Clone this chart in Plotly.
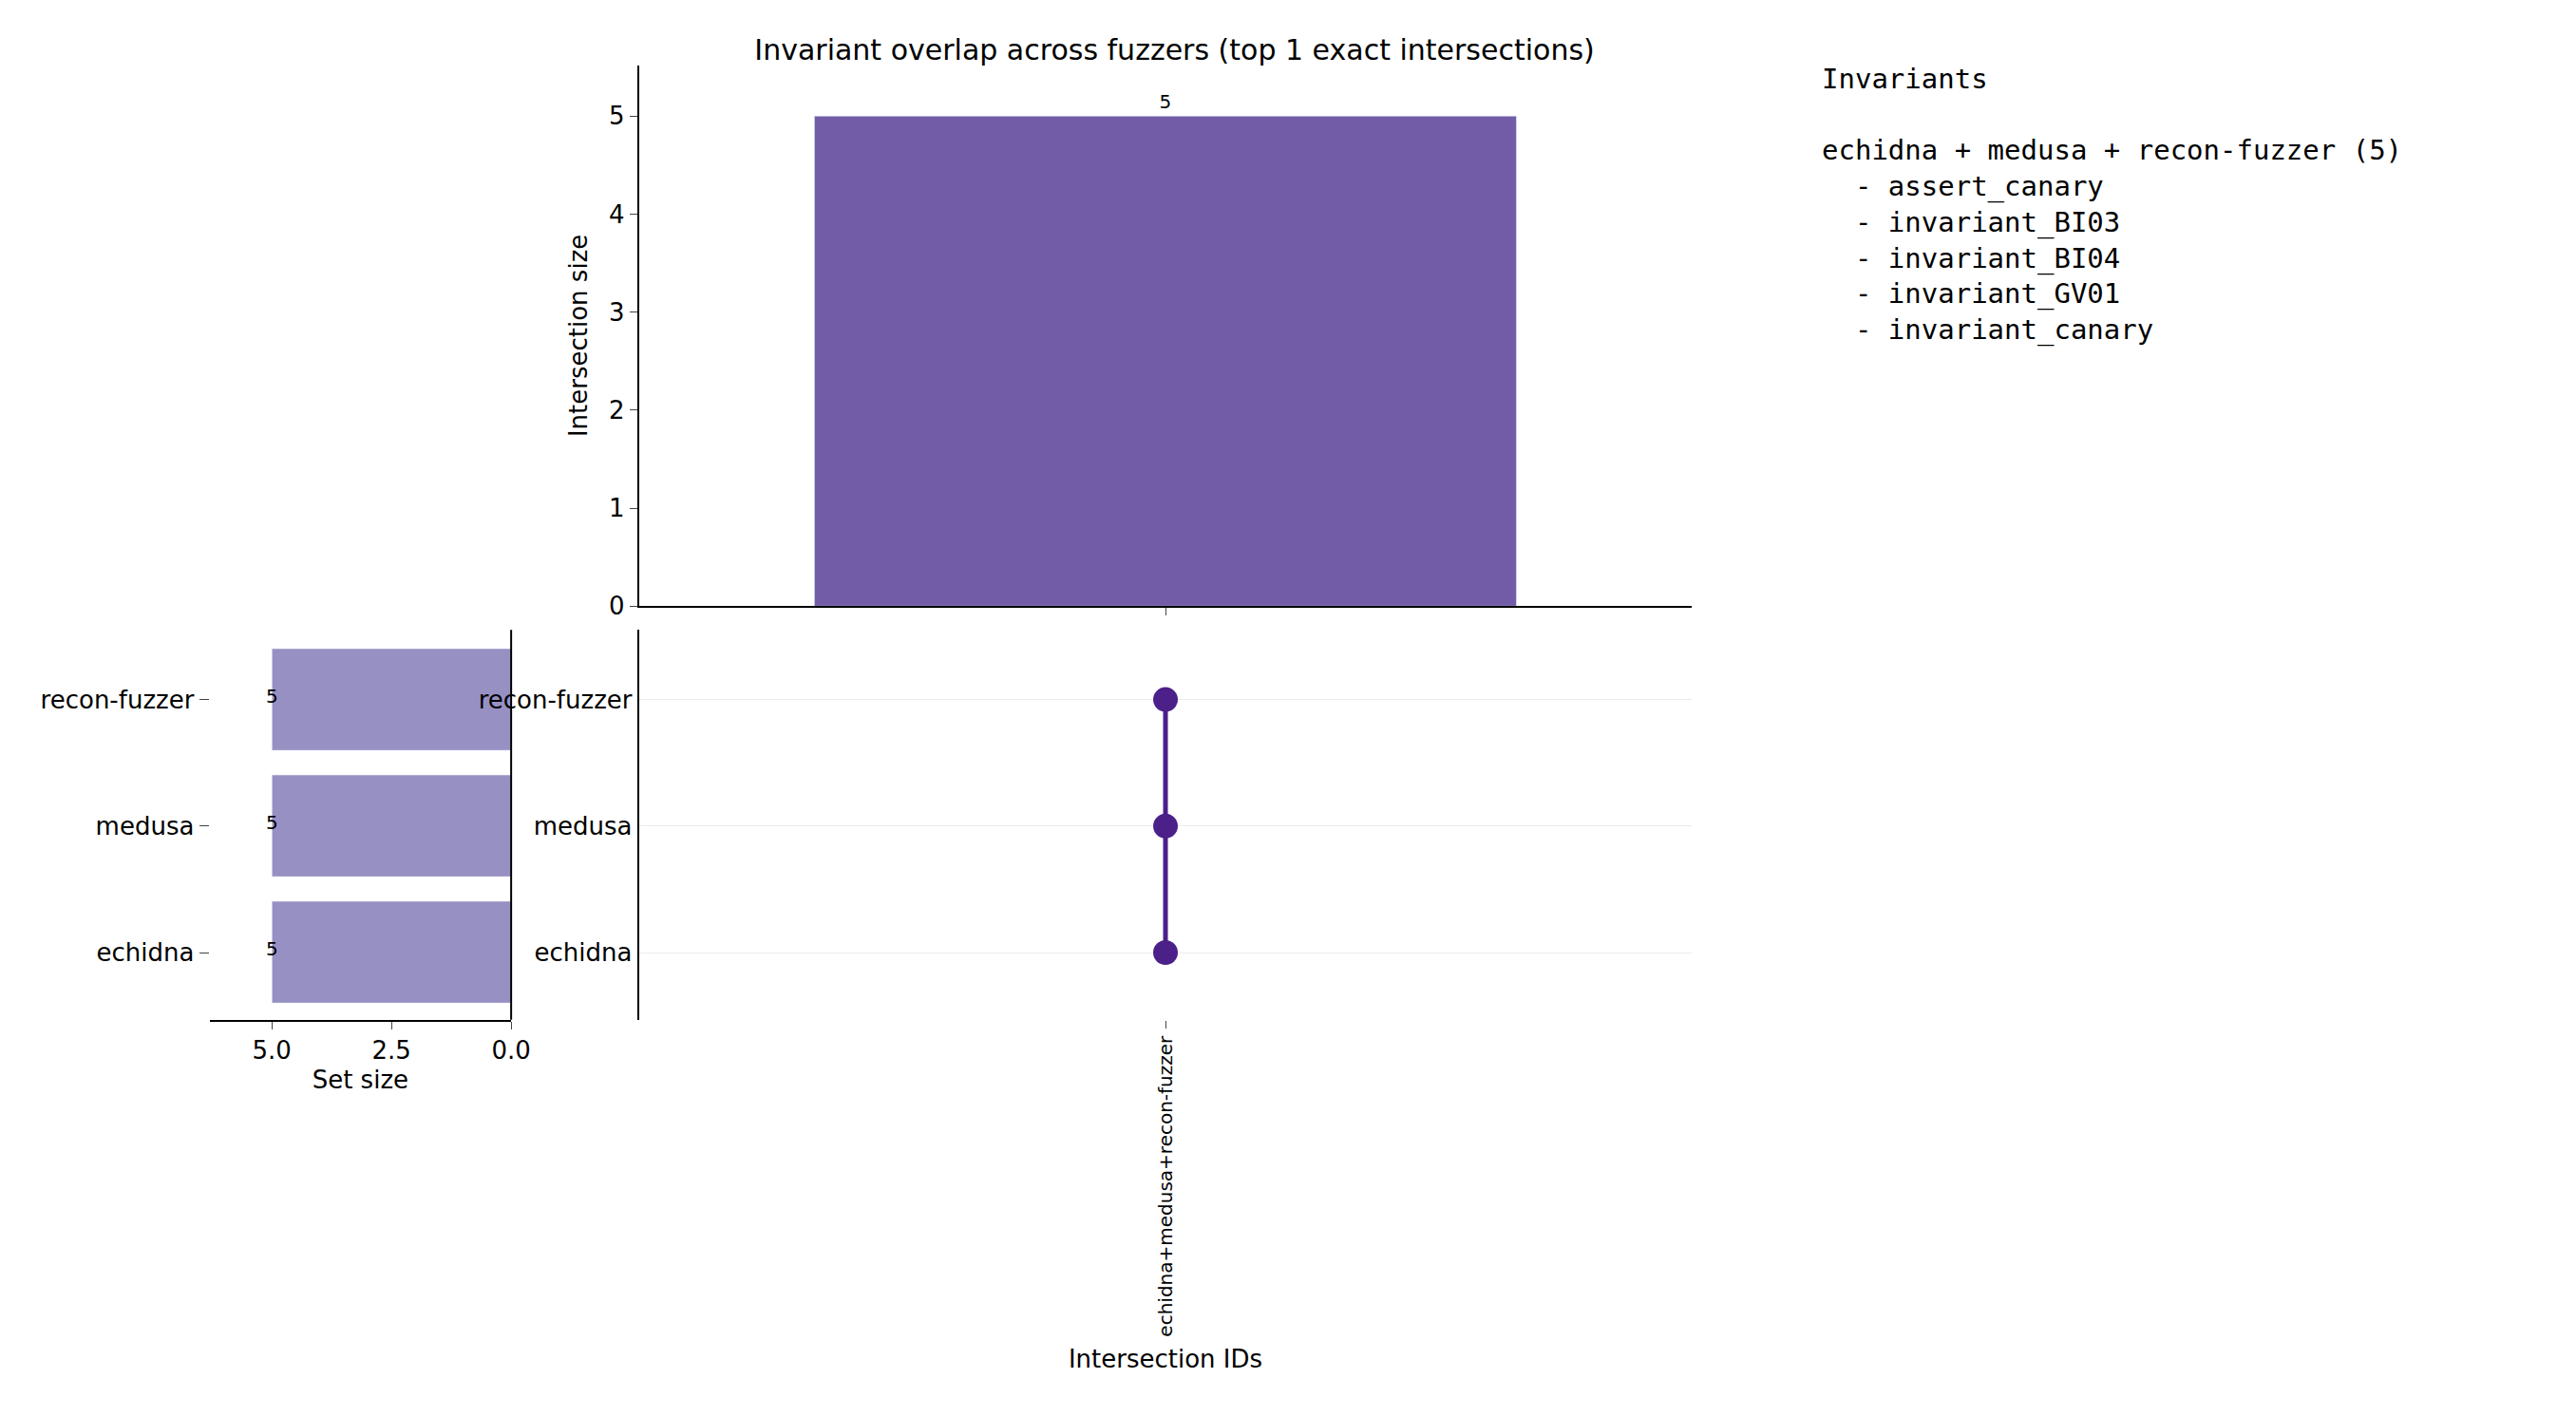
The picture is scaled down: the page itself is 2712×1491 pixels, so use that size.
import plotly.graph_objects as go

sets = ["echidna", "medusa", "recon-fuzzer"]
set_sizes = [5, 5, 5]
inter_ids = ["echidna+medusa+recon-fuzzer"]
inter_sizes = [5]
inter_members = [["echidna", "medusa", "recon-fuzzer"]]
invariants = ["assert_canary", "invariant_BI03", "invariant_BI04", "invariant_GV01", "invariant_canary"]

W, H = 2712, 1491
FS = 26
fig = go.Figure()

# top intersection bars
fig.add_trace(go.Bar(x=[0], y=inter_sizes, width=0.8, marker_color="#725ca8",
                     text=[str(v) for v in inter_sizes], textposition="outside",
                     textfont=dict(size=20, color="black"), cliponaxis=False,
                     xaxis="x", yaxis="y", showlegend=False))
# set size bars
fig.add_trace(go.Bar(y=list(range(len(sets))), x=set_sizes, orientation="h", width=0.8,
                     marker_color="#9790c3", showlegend=False, xaxis="x2", yaxis="y2"))
for i, v in enumerate(set_sizes):
    fig.add_annotation(x=v, y=i, xref="x2", yref="y2", text=str(v), showarrow=False,
                       font=dict(size=20, color="black"), yshift=4)
# matrix
for j, mem in enumerate(inter_members):
    ys = [sets.index(m) for m in mem]
    fig.add_trace(go.Scatter(x=[j]*len(ys), y=ys, mode="lines+markers",
                             line=dict(color="#4b2089", width=5),
                             marker=dict(size=26, color="#4b2089"),
                             showlegend=False, xaxis="x3", yaxis="y3"))

ax = dict(showline=True, linecolor="black", linewidth=2, ticks="outside", ticklen=8,
          tickfont=dict(size=FS, color="black"), zeroline=False, showgrid=False)
fig.update_layout(
    width=W, height=H, plot_bgcolor="white", paper_bgcolor="white",
    margin=dict(l=0, r=0, t=0, b=0), font=dict(family="DejaVu Sans", color="black"),
    bargap=0,
    title=dict(text="Invariant overlap across fuzzers (top 1 exact intersections)",
               x=0.453, xanchor="center", y=0.977, font=dict(size=30, color="black")),
    xaxis=dict(ax, domain=[0.247, 0.659], range=[-0.6, 0.6], tickvals=[0], ticktext=[""], anchor="y"),
    yaxis=dict(ax, domain=[0.573, 0.959], range=[0, 5.52], dtick=1, anchor="x",
               title=dict(text="Intersection size", font=dict(size=FS))),
    xaxis2=dict(ax, domain=[0.079, 0.197], range=[6.3, 0], tickvals=[5, 2.5, 0],
                ticktext=["5.0", "2.5", "0.0"], anchor="y2",
                title=dict(text="Set size", font=dict(size=FS), standoff=8)),
    yaxis2=dict(ax, domain=[0.278, 0.556], range=[-0.53, 2.55], tickvals=[0, 1, 2],
                ticktext=sets, anchor="x2", side="left", showline=False, ticklen=10),
    xaxis3=dict(ax, domain=[0.247, 0.659], range=[-0.6, 0.6], tickvals=[0], ticktext=inter_ids,
                tickangle=-90, tickfont=dict(size=20, color="black"), showline=False, anchor="y3",
                title=dict(text="Intersection IDs", font=dict(size=FS))),
    yaxis3=dict(ax, domain=[0.278, 0.556], range=[-0.53, 2.55], tickvals=[0, 1, 2],
                ticktext=sets, anchor="x3", showgrid=True, gridcolor="#ebebeb", ticks="", ticklabelstandoff=0),
)
# right spine of set-size axis
fig.add_shape(type="line", xref="paper", yref="paper", x0=0.197, x1=0.197, y0=0.278, y1=0.556,
              line=dict(color="black", width=2))

lines = ["Invariants", ""]
for mem, size in zip(inter_members, inter_sizes):
    lines.append(" + ".join(mem) + f" ({size})")
    lines += ["  - " + s for s in invariants]
fig.add_annotation(xref="paper", yref="paper", x=0.709, y=0.962, xanchor="left", yanchor="top",
                   align="left", showarrow=False, text="<br>".join(lines),
                   font=dict(family="DejaVu Sans Mono", size=29, color="black"))
fig.write_html("out.html")
